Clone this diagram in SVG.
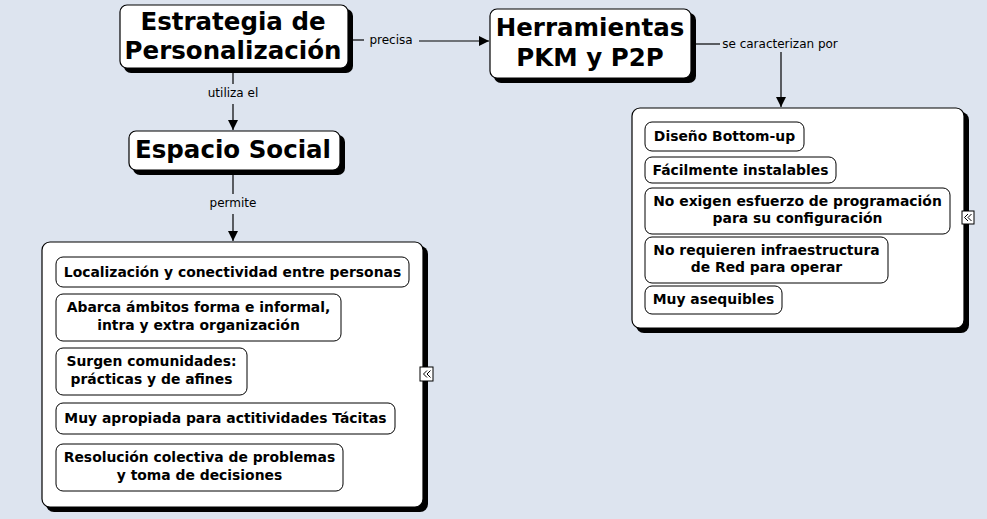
<svg xmlns="http://www.w3.org/2000/svg" width="987" height="519" viewBox="0 0 987 519">
<defs>
<style>
.bg{fill:#dde4ef}
.shadow{fill:#000}
.box{fill:#fff;stroke:#000;stroke-width:1.2}
.item{fill:#fff;stroke:#000;stroke-width:1}
.title{font-family:"DejaVu Sans",Verdana,sans-serif;font-weight:bold;font-size:24.5px;fill:#000;text-anchor:middle}
.itxt{font-family:"DejaVu Sans",Verdana,sans-serif;font-weight:bold;font-size:13.9px;fill:#000;text-anchor:middle}
.lbl{font-family:"DejaVu Sans",Verdana,sans-serif;font-size:12px;fill:#000;text-anchor:middle}
.ln{stroke:#000;stroke-width:1.2;fill:none}
</style>
<marker id="arr" viewBox="0 0 10 10" refX="10" refY="5" markerWidth="10" markerHeight="10" markerUnits="userSpaceOnUse" orient="auto">
<path d="M0,0 L10,5 L0,10 z" fill="#000"/>
</marker>
</defs>
<rect class="bg" x="0" y="0" width="987" height="519"/>

<g id="connectors">
<line class="ln" x1="348" y1="40" x2="364" y2="40"/>
<text class="lbl" x="391" y="44">precisa</text>
<line class="ln" x1="419" y1="41" x2="489" y2="41" marker-end="url(#arr)"/>
<line class="ln" x1="233" y1="68" x2="233" y2="84"/>
<text class="lbl" x="233" y="97">utiliza el</text>
<line class="ln" x1="233" y1="104" x2="233" y2="130" marker-end="url(#arr)"/>
<line class="ln" x1="233" y1="170" x2="233" y2="194"/>
<text class="lbl" x="233" y="207">permite</text>
<line class="ln" x1="233" y1="214" x2="233" y2="241" marker-end="url(#arr)"/>
<line class="ln" x1="691" y1="44" x2="720" y2="44"/>
<text class="lbl" x="780" y="48">se caracterizan por</text>
<line class="ln" x1="781" y1="52" x2="781" y2="107" marker-end="url(#arr)"/>
</g>

<g id="estrategia">
<rect class="shadow" x="124" y="9" width="229" height="64" rx="7"/>
<rect class="box" x="120" y="5" width="228" height="63" rx="7"/>
<text class="title" x="233" y="30">Estrategia de</text>
<text class="title" x="233" y="59">Personalización</text>
</g>

<g id="herramientas">
<rect class="shadow" x="494" y="13" width="202" height="70" rx="7"/>
<rect class="box" x="490" y="9" width="201" height="69" rx="7"/>
<text class="title" x="590" y="36">Herramientas</text>
<text class="title" x="590" y="66">PKM y P2P</text>
</g>

<g id="espacio">
<rect class="shadow" x="133" y="135" width="212" height="40" rx="7"/>
<rect class="box" x="129" y="131" width="211" height="39" rx="7"/>
<text class="title" x="233" y="158">Espacio Social</text>
</g>

<g id="caracteristicas">
<rect class="shadow" x="636" y="112" width="333" height="221" rx="8"/>
<rect class="box" x="632" y="108" width="332" height="220" rx="8"/>
<g id="c1"><rect class="item" x="645" y="122" width="159" height="29" rx="7"/><text class="itxt" x="724.5" y="141">Diseño Bottom-up</text></g>
<g id="c2"><rect class="item" x="645" y="157" width="191" height="26" rx="7"/><text class="itxt" x="740.5" y="175">Fácilmente instalables</text></g>
<g id="c3"><rect class="item" x="645" y="188" width="305" height="46" rx="7"/><text class="itxt" x="797.5" y="206">No exigen esfuerzo de programación</text><text class="itxt" x="797.5" y="223">para su configuración</text></g>
<g id="c4"><rect class="item" x="645" y="237" width="243" height="46" rx="7"/><text class="itxt" x="766.5" y="255">No requieren infraestructura</text><text class="itxt" x="766.5" y="272">de Red para operar</text></g>
<g id="c5"><rect class="item" x="645" y="286" width="137" height="28" rx="7"/><text class="itxt" x="713.5" y="304">Muy asequibles</text></g>
<g id="c-icon"><rect x="962" y="211" width="12" height="13" fill="#fff" stroke="#000" stroke-width="1"/><path d="M968,214 l-3.5,3.5 l3.5,3.5 M971.5,214 l-3.5,3.5 l3.5,3.5" stroke="#000" stroke-width="1" fill="none"/></g>
</g>

<g id="espacio-items">
<rect class="shadow" x="46" y="246" width="382" height="266" rx="8"/>
<rect class="box" x="42" y="242" width="381" height="265" rx="8"/>
<g id="e1"><rect class="item" x="56" y="257" width="353" height="30" rx="7"/><text class="itxt" x="232.5" y="277">Localización y conectividad entre personas</text></g>
<g id="e2"><rect class="item" x="56" y="294" width="285" height="47" rx="7"/><text class="itxt" x="198.5" y="312">Abarca ámbitos forma e informal,</text><text class="itxt" x="198.5" y="330">intra y extra organización</text></g>
<g id="e3"><rect class="item" x="56" y="348" width="191" height="47" rx="7"/><text class="itxt" x="151.5" y="366">Surgen comunidades:</text><text class="itxt" x="151.5" y="384">prácticas y de afines</text></g>
<g id="e4"><rect class="item" x="56" y="403" width="339" height="31" rx="7"/><text class="itxt" x="225.5" y="423">Muy apropiada para actitividades Tácitas</text></g>
<g id="e5"><rect class="item" x="56" y="444" width="287" height="47" rx="7"/><text class="itxt" x="199.5" y="462">Resolución colectiva de problemas</text><text class="itxt" x="199.5" y="480">y toma de decisiones</text></g>
<g id="e-icon"><rect x="420" y="367" width="13" height="14" fill="#fff" stroke="#000" stroke-width="1"/><path d="M427,370.5 l-3.5,3.5 l3.5,3.5 M430.5,370.5 l-3.5,3.5 l3.5,3.5" stroke="#000" stroke-width="1" fill="none"/></g>
</g>
</svg>
